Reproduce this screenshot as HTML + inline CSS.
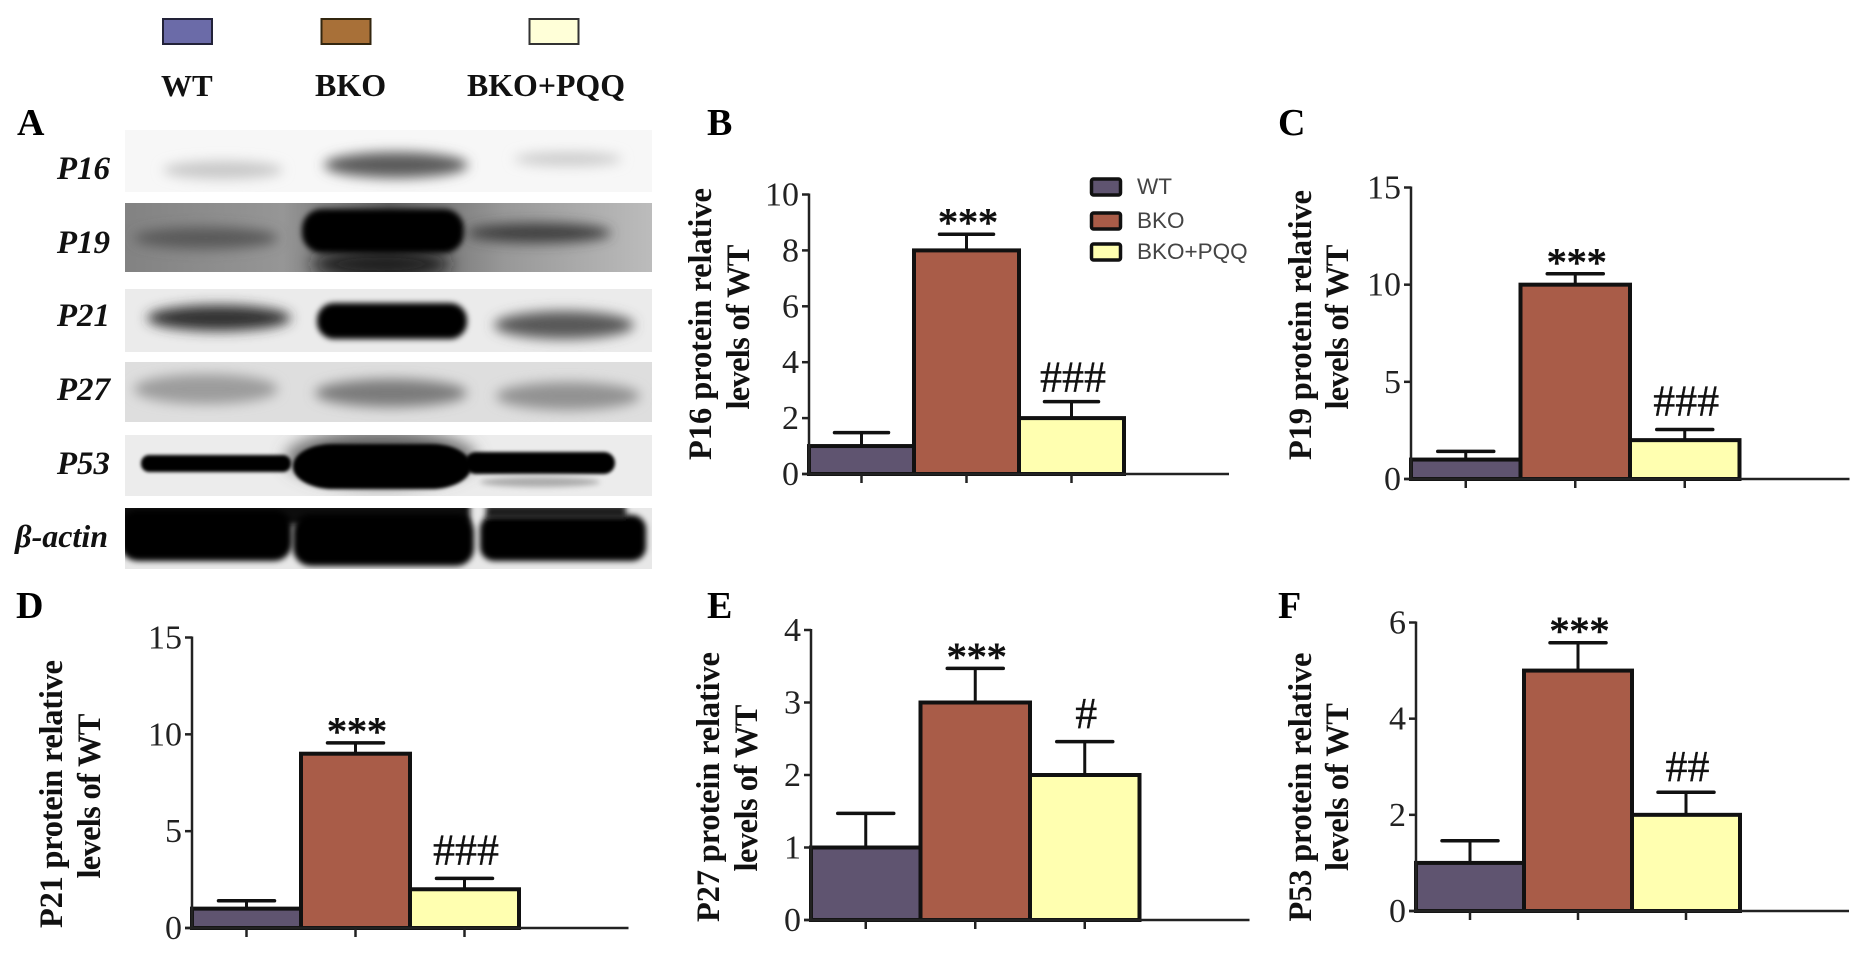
<!DOCTYPE html>
<html lang="en">
<head>
<meta charset="utf-8">
<title>Senescence protein levels: WT, BKO and BKO+PQQ</title>
<style>
html,body{margin:0;padding:0;background:#fff;width:1864px;height:953px;overflow:hidden}
svg{display:block}
text{font-family:"Liberation Serif",serif}
</style>
</head>
<body>
<svg id="figure" width="1864" height="953" viewBox="0 0 1864 953" xmlns="http://www.w3.org/2000/svg">
<defs>
<filter id="b1" x="-10%" y="-30%" width="120%" height="160%"><feGaussianBlur stdDeviation="1.500"/></filter>
<filter id="b3" x="-30%" y="-60%" width="160%" height="220%"><feGaussianBlur stdDeviation="3"/></filter>
<filter id="b5" x="-30%" y="-80%" width="160%" height="260%"><feGaussianBlur stdDeviation="6"/></filter>
<filter id="b8" x="-40%" y="-100%" width="180%" height="300%"><feGaussianBlur stdDeviation="8"/></filter>
<clipPath id="c16"><rect x="125" y="130" width="527" height="62"/></clipPath>
<clipPath id="c19"><rect x="125" y="203" width="527" height="69"/></clipPath>
<clipPath id="c21"><rect x="125" y="289" width="527" height="63"/></clipPath>
<clipPath id="c27"><rect x="125" y="362" width="527" height="60"/></clipPath>
<clipPath id="c53"><rect x="125" y="435" width="527" height="61"/></clipPath>
<clipPath id="cac"><rect x="125" y="508" width="527" height="61"/></clipPath>
<linearGradient id="g19" x1="0" x2="1" y1="0" y2="0">
<stop offset="0" stop-color="#828282"/><stop offset=".3" stop-color="#969696"/><stop offset=".5" stop-color="#606060"/><stop offset=".72" stop-color="#989898"/><stop offset="1" stop-color="#bcbcbc"/>
</linearGradient>
</defs>

<g>
<rect x="163" y="19" width="49" height="25" fill="#6b6ba8" stroke="#222238" stroke-width="2"/>
<rect x="321.500" y="19" width="49" height="25" fill="#a87038" stroke="#33260f" stroke-width="2"/>
<rect x="529.500" y="19" width="49" height="25" fill="#ffffd8" stroke="#333" stroke-width="2"/>
<text x="161" y="96" font-size="31" font-weight="bold" fill="#111">WT</text>
<text x="315" y="96" font-size="32" font-weight="bold" fill="#111">BKO</text>
<text x="467" y="96" font-size="32" font-weight="bold" fill="#111" textLength="158" lengthAdjust="spacingAndGlyphs">BKO+PQQ</text>
</g>

<text x="17" y="135" font-size="38" font-weight="bold" fill="#000">A</text>

<g>
<g clip-path="url(#c16)">
<rect x="125" y="130" width="527" height="62" fill="#f7f7f7"/>
<ellipse cx="223" cy="170" rx="60" ry="9" fill="#c8c8c8" filter="url(#b5)"/>
<ellipse cx="396" cy="165" rx="72" ry="13" fill="#5c5c5c" filter="url(#b5)"/>
<ellipse cx="568" cy="159" rx="54" ry="7" fill="#cccccc" filter="url(#b5)"/>
</g>
<g clip-path="url(#c19)">
<rect x="125" y="203" width="527" height="69" fill="url(#g19)"/>
<ellipse cx="206" cy="238" rx="72" ry="11" fill="#5a5a5a" filter="url(#b5)"/>
<ellipse cx="381" cy="264" rx="70" ry="14" fill="#1c1c1c" filter="url(#b8)"/>
<rect x="302" y="209" width="162" height="44" rx="20" fill="#000" filter="url(#b3)"/>
<ellipse cx="539" cy="233" rx="72" ry="10" fill="#404040" filter="url(#b5)"/>
</g>
<g clip-path="url(#c21)">
<rect x="125" y="289" width="527" height="63" fill="#ebebeb"/>
<ellipse cx="219" cy="318" rx="72" ry="13" fill="#333" filter="url(#b5)"/>
<rect x="317" y="303" width="150" height="36" rx="17" fill="#000" filter="url(#b3)"/>
<ellipse cx="564" cy="325" rx="70" ry="14" fill="#585858" filter="url(#b5)"/>
</g>
<g clip-path="url(#c27)">
<rect x="125" y="362" width="527" height="60" fill="#dedede"/>
<ellipse cx="206" cy="389" rx="72" ry="15" fill="#9c9c9c" filter="url(#b5)"/>
<ellipse cx="391" cy="393" rx="76" ry="14" fill="#7c7c7c" filter="url(#b5)"/>
<ellipse cx="568" cy="396" rx="72" ry="14" fill="#929292" filter="url(#b5)"/>
</g>
<g clip-path="url(#c53)">
<rect x="125" y="435" width="527" height="61" fill="#ececec"/>
<ellipse cx="381" cy="458" rx="95" ry="28" fill="#666" filter="url(#b8)"/>
<rect x="141" y="455" width="150" height="17" rx="8" fill="#000" filter="url(#b1)"/>
<rect x="293" y="444" width="178" height="45" rx="40" ry="22" fill="#000" filter="url(#b1)"/>
<rect x="465" y="452" width="150" height="22" rx="11" fill="#000" filter="url(#b1)"/>
<ellipse cx="540" cy="482" rx="60" ry="5" fill="#aaa" filter="url(#b3)"/>
</g>
<g clip-path="url(#cac)">
<rect x="125" y="508" width="527" height="61" fill="#e8e8e8"/>
<rect x="118" y="503" width="352" height="22" fill="#0c0c0c" filter="url(#b3)"/>
<rect x="120" y="510" width="172" height="51" rx="18" fill="#000" filter="url(#b3)"/>
<rect x="293" y="514" width="181" height="52" rx="18" fill="#000" filter="url(#b3)"/>
<rect x="480" y="515" width="166" height="46" rx="14" fill="#000" filter="url(#b3)"/>
<rect x="486" y="505" width="140" height="14" fill="#1a1a1a" filter="url(#b3)"/>
</g>
</g>

<g font-size="33" font-weight="bold" font-style="italic" fill="#111" text-anchor="end">
<text x="110" y="179">P16</text>
<text x="110" y="253">P19</text>
<text x="110" y="326">P21</text>
<text x="110" y="400">P27</text>
<text x="110" y="474">P53</text>
<text x="108" y="547" font-size="32">β-actin</text>
</g>

<g>
<rect x="1091.500" y="179" width="29" height="16" rx="2" fill="#5f5470" stroke="#111" stroke-width="3.500"/>
<text x="1137" y="194" font-size="22.500" fill="#444" style="font-family:'Liberation Sans',sans-serif">WT</text>
<rect x="1091.500" y="213" width="29" height="16" rx="2" fill="#a95c48" stroke="#111" stroke-width="3.500"/>
<text x="1137" y="228" font-size="22.500" fill="#444" style="font-family:'Liberation Sans',sans-serif">BKO</text>
<rect x="1091.500" y="244" width="29" height="16" rx="2" fill="#ffffb0" stroke="#111" stroke-width="3.500"/>
<text x="1137" y="259" font-size="22.500" fill="#444" style="font-family:'Liberation Sans',sans-serif">BKO+PQQ</text>
</g>

<g id="charts"></g>
</svg>

<script>
// ---- chart data ----
const groups = ['WT', 'BKO', 'BKO+PQQ'];

const p16Means = [1, 8, 2];
const p16Errors = [0.48, 0.58, 0.59];
const p16Ticks = [0, 2, 4, 6, 8, 10];
const p16Marks = ['', '***', '###'];

const p19Means = [1, 10, 2];
const p19Errors = [0.42, 0.56, 0.55];
const p19Ticks = [0, 5, 10, 15];
const p19Marks = ['', '***', '###'];

const p21Means = [1, 9, 2];
const p21Errors = [0.41, 0.56, 0.56];
const p21Ticks = [0, 5, 10, 15];
const p21Marks = ['', '***', '###'];

const p27Means = [1, 3, 2];
const p27Errors = [0.47, 0.47, 0.46];
const p27Ticks = [0, 1, 2, 3, 4];
const p27Marks = ['', '***', '#'];

const p53Means = [1, 5, 2];
const p53Errors = [0.46, 0.58, 0.47];
const p53Ticks = [0, 2, 4, 6];
const p53Marks = ['', '***', '##'];

// ---- panel layout ----
const fills = ['#5f5470', '#a95c48', '#ffffb0'];
const panels = [
  {id:'p16', letter:'B', lx:707, ly:135, means:p16Means, errors:p16Errors, ticks:p16Ticks, marks:p16Marks,
   x0:809, bw:105, xEnd:1229, y0:474, yTop:194.5, hashGap:10, capHalf:27,
   title:['P16 protein relative','levels of WT'], tx:[711,749], tcy:[324,327], tlen:[272,165]},
  {id:'p19', letter:'C', lx:1278, ly:135, means:p19Means, errors:p19Errors, ticks:p19Ticks, marks:p19Marks,
   x0:1411, bw:109.500, xEnd:1849.500, y0:479, yTop:187.500, hashGap:14, capHalf:28,
   title:['P19 protein relative','levels of WT'], tx:[1311,1348],tcy:[325,327], tlen:[270,165]},
  {id:'p21', letter:'D', lx:16, ly:618, means:p21Means, errors:p21Errors, ticks:p21Ticks, marks:p21Marks,
   x0:192, bw:109, xEnd:628.500, y0:928, yTop:637.500, hashGap:14, capHalf:28,
   title:['P21 protein relative','levels of WT'], tx:[62,100], tcy:[794,796], tlen:[268,165]},
  {id:'p27', letter:'E', lx:707, ly:618, means:p27Means, errors:p27Errors, ticks:p27Ticks, marks:p27Marks,
   x0:811, bw:109.500, xEnd:1249.500, y0:920, yTop:630, hashGap:13.500, capHalf:28,
   title:['P27 protein relative','levels of WT'], tx:[719,757], tcy:[787,788], tlen:[270,167]},
  {id:'p53', letter:'F', lx:1278, ly:618, means:p53Means, errors:p53Errors, ticks:p53Ticks, marks:p53Marks,
   x0:1416, bw:108, xEnd:1849, y0:911, yTop:622.500, hashGap:11, capHalf:28,
   title:['P53 protein relative','levels of WT'], tx:[1311,1348], tcy:[787,787], tlen:[269,168]}
];

const NS = 'http://www.w3.org/2000/svg';
const root = document.getElementById('charts');

function shape(parent, tag, props, content) {
  const node = document.createElementNS(NS, tag);
  Object.keys(props).forEach(function (k) { node.setAttribute(k, props[k]); });
  if (content !== undefined) node.textContent = content;
  parent.appendChild(node);
  return node;
}

function drawPanel(p) {
  const maxTick = p.ticks[p.ticks.length - 1];
  const yScale = function (v) { return p.y0 - (v / maxTick) * (p.y0 - p.yTop); };
  const xLeft = function (i) { return p.x0 + i * p.bw; };
  const xMid = function (i) { return p.x0 + (i + 0.5) * p.bw; };

  const g = shape(root, 'g', {});
  
  

  const letter = shape(g, 'text', {x:p.lx, y:p.ly, 'font-size':38, 'font-weight':'bold', fill:'#000'}, p.letter);
  
  

  p.title.forEach(function (line, i) {
    const t = shape(g, 'text', {
      x:p.tx[i], y:p.tcy[i], 'font-size':32.5, 'font-weight':'bold', fill:'#111', 'text-anchor':'middle',
      textLength:p.tlen[i], transform:'rotate(-90 ' + p.tx[i] + ' ' + p.tcy[i] + ')'
    }, line);
    
    
  });

  groups.forEach(function (name, i) {
    const errTop = yScale(p.means[i] + p.errors[i]);
    const stem = shape(g, 'line', {x1:xMid(i), x2:xMid(i), y1:yScale(p.means[i]), y2:errTop, stroke:'#111', 'stroke-width':3});
    
    
    const cap = shape(g, 'line', {x1:xMid(i) - p.capHalf, x2:xMid(i) + p.capHalf, y1:errTop, y2:errTop, stroke:'#111', 'stroke-width':3.500, 'stroke-linecap':'round'});
    
    

    const bar = shape(g, 'rect', {x:xLeft(i), y:yScale(p.means[i]), width:p.bw, height:p.y0 - yScale(p.means[i]), fill:fills[i], stroke:'#111', 'stroke-width':4});
    
    

    const tick = shape(g, 'line', {x1:xMid(i), x2:xMid(i), y1:p.y0, y2:p.y0 + 9, stroke:'#222', 'stroke-width':2.500});
    
    

    const mark = p.marks[i];
    if (mark) {
      const isStar = mark.charAt(0) === '*';
      const base = isStar ? errTop + 2 : errTop - p.hashGap;
      const m = shape(g, 'text', {x:xMid(i) + 1.500, y:base, 'font-size':isStar ? 40 : 44, fill:'#111', stroke:'#111', 'stroke-width':isStar ? 0.9 : 0.3, 'text-anchor':'middle'}, mark);
      
      
    }
  });

  const yAxis = shape(g, 'line', {x1:p.x0, x2:p.x0, y1:yScale(maxTick) - 1, y2:p.y0 + 1, stroke:'#222', 'stroke-width':2.500});
  
  
  const xAxis = shape(g, 'line', {x1:p.x0 - 7, x2:p.xEnd, y1:p.y0, y2:p.y0, stroke:'#222', 'stroke-width':2.500});
  
  

  p.ticks.forEach(function (v) {
    const tk = shape(g, 'line', {x1:p.x0 - 7, x2:p.x0, y1:yScale(v), y2:yScale(v), stroke:'#222', 'stroke-width':2.500});
    
    
    const lb = shape(g, 'text', {x:p.x0 - 10, y:yScale(v) + 11, 'font-size':34, fill:'#222', 'text-anchor':'end'}, String(v));
    
    
  });
}

panels.forEach(drawPanel);
</script>
</body>
</html>
